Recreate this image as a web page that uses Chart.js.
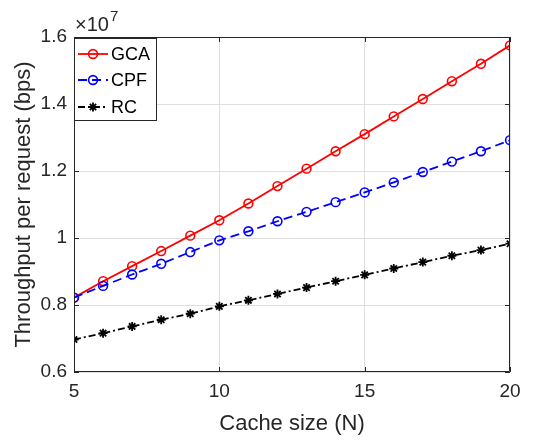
<!DOCTYPE html>
<html>
<head>
<meta charset="utf-8">
<script src="https://cdn.jsdelivr.net/npm/chart.js@4"></script>
<style>
  html, body { margin: 0; padding: 0; background: #fff; }
  #wrap { width: 535px; height: 440px; }
</style>
</head>
<body>
<div id="wrap"><canvas id="myChart" width="535" height="440"></canvas></div>
<script>
// cache size N
const cacheSizes = [5, 6, 7, 8, 9, 10, 11, 12, 13, 14, 15, 16, 17, 18, 19, 20];

// throughput per request, in units of 1e7 bps
const gcaValues = [0.822, 0.871, 0.916, 0.961, 1.007, 1.053, 1.103, 1.155, 1.207, 1.259, 1.310, 1.363, 1.415, 1.468, 1.520, 1.575];
const cpfValues = [0.822, 0.857, 0.891, 0.923, 0.958, 0.993, 1.020, 1.050, 1.078, 1.107, 1.136, 1.166, 1.197, 1.228, 1.259, 1.292];
const rcValues  = [0.697, 0.716, 0.736, 0.756, 0.774, 0.796, 0.814, 0.833, 0.852, 0.871, 0.890, 0.909, 0.928, 0.947, 0.964, 0.983];

const xTicks = [5, 10, 15, 20];
const yTicks = [0.6, 0.8, 1.0, 1.2, 1.4, 1.6];

const FONT = "'Liberation Sans', Arial, Helvetica, sans-serif";
const AXIS = '#262626';

function points(ys) {
  return cacheSizes.map((n, i) => ({x: n, y: ys[i]}));
}

const data = {
  datasets: [{
    label: 'GCA',
    data: points(gcaValues),
    borderColor: '#ff0000',
    backgroundColor: 'rgba(0,0,0,0)',
    borderWidth: 1.8,
    pointStyle: 'circle',
    pointRadius: 4.4,
    pointBorderWidth: 1.6,
    order: 3
  }, {
    label: 'CPF',
    data: points(cpfValues),
    borderColor: '#0000ff',
    backgroundColor: 'rgba(0,0,0,0)',
    borderWidth: 1.8,
    borderDash: [9, 5],
    pointStyle: 'circle',
    pointRadius: 4.4,
    pointBorderWidth: 1.6,
    order: 2
  }, {
    label: 'RC',
    data: points(rcValues),
    borderColor: '#000000',
    backgroundColor: 'rgba(0,0,0,0)',
    borderWidth: 1.8,
    borderDash: [7, 3, 2, 3],
    pointStyle: 'star',
    pointRadius: 4.5,
    pointBorderWidth: 1.8,
    order: 1
  }]
};

// box, inner tick marks, legend and exponent label
const axesBox = {
  id: 'axesBox',
  afterDatasetsDraw(chart) {
    const {ctx, chartArea: a, scales} = chart;
    const t = 5;
    ctx.save();
    ctx.strokeStyle = AXIS;
    ctx.lineWidth = 1;
    ctx.beginPath();
    ctx.rect(a.left + 0.5, a.top + 0.5, a.right - a.left - 1, a.bottom - a.top - 1);
    xTicks.forEach(v => {
      const px = Math.round(scales.x.getPixelForValue(v)) + 0.5;
      ctx.moveTo(px, a.bottom); ctx.lineTo(px, a.bottom - t);
      ctx.moveTo(px, a.top); ctx.lineTo(px, a.top + t);
    });
    yTicks.forEach(v => {
      const py = Math.round(scales.y.getPixelForValue(v)) + 0.5;
      ctx.moveTo(a.left, py); ctx.lineTo(a.left + t, py);
      ctx.moveTo(a.right, py); ctx.lineTo(a.right - t, py);
    });
    ctx.stroke();

    // exponent
    ctx.fillStyle = AXIS;
    ctx.textBaseline = 'alphabetic';
    ctx.textAlign = 'left';
    ctx.font = 'normal 20px ' + FONT;
    ctx.fillText('\u00d710', a.left + 1, 31);
    const w = ctx.measureText('\u00d710').width;
    ctx.font = 'normal 15px ' + FONT;
    ctx.fillText('7', a.left + 1 + w + 1, 21);

    // legend
    const lx = a.left, ly = a.top + 1, lw = 83, lh = 83;
    ctx.fillStyle = '#ffffff';
    ctx.fillRect(lx, ly, lw, lh);
    ctx.strokeStyle = AXIS;
    ctx.strokeRect(lx + 0.5, ly + 0.5, lw - 1, lh - 1);
    const rows = [ly + 16, ly + 42, ly + 69];
    chart.data.datasets.forEach((ds, i) => {
      const y = rows[i];
      ctx.save();
      ctx.strokeStyle = ds.borderColor;
      ctx.fillStyle = 'rgba(0,0,0,0)';
      ctx.lineWidth = ds.borderWidth;
      ctx.setLineDash(ds.borderDash || []);
      ctx.beginPath();
      ctx.moveTo(lx + 4, y);
      ctx.lineTo(lx + 34, y);
      ctx.stroke();
      ctx.setLineDash([]);
      ctx.lineWidth = ds.pointBorderWidth;
      Chart.helpers.drawPoint(ctx, {pointStyle: ds.pointStyle, radius: ds.pointRadius, borderWidth: ds.pointBorderWidth, rotation: 0}, lx + 19, y);
      ctx.restore();
      ctx.fillStyle = '#000000';
      ctx.font = '18px ' + FONT;
      ctx.textBaseline = 'middle';
      ctx.fillText(ds.label, lx + 37, y + 1);
    });
    ctx.restore();
  }
};

const config = {
  type: 'scatter',
  data,
  options: {
    responsive: false,
    animation: false,
    showLine: true,
    layout: {padding: {top: 37, right: 25, bottom: 0, left: 0}},
    plugins: {legend: {display: false}, tooltip: {enabled: false}},
    scales: {
      x: {
        type: 'linear',
        min: 5, max: 20,
        afterBuildTicks: s => { s.ticks = xTicks.map(v => ({value: v})); },
        afterFit: s => { s.height = 68; },
        ticks: {color: AXIS, font: {family: FONT, size: 19}, padding: 8, maxRotation: 0},
        grid: {color: '#dfdfdf', drawTicks: false},
        border: {display: false},
        title: {display: true, text: 'Cache size (N)', color: AXIS, font: {family: FONT, size: 22}, padding: {top: 0, bottom: 3}}
      },
      y: {
        min: 0.6, max: 1.6,
        afterBuildTicks: s => { s.ticks = yTicks.map(v => ({value: v})); },
        afterFit: s => { s.width = 74; },
        ticks: {color: AXIS, font: {family: FONT, size: 19}, padding: 7, callback: v => String(+v.toFixed(1))},
        grid: {color: '#dfdfdf', drawTicks: false},
        border: {display: false},
        title: {display: true, text: 'Throughput per request (bps)', color: AXIS, font: {family: FONT, size: 22}, padding: {top: 11, bottom: 0}}
      }
    }
  },
  plugins: [axesBox]
};

var myChart = new Chart(document.getElementById('myChart'), config);
</script>
</body>
</html>
